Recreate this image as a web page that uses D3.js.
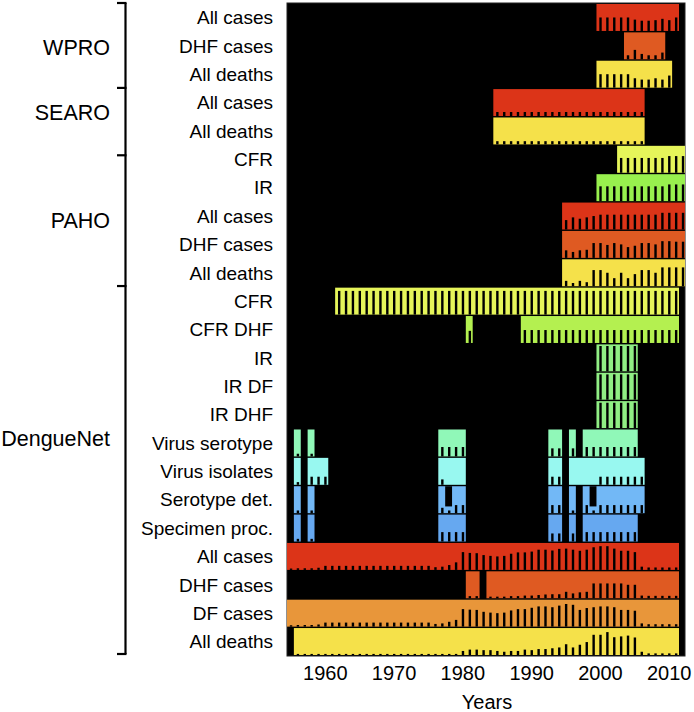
<!DOCTYPE html>
<html>
<head>
<meta charset="utf-8">
<script src="https://cdn.jsdelivr.net/npm/d3@7"></script>
<style>
  body { margin: 0; background: #fff; }
  svg text { font-family: "Liberation Sans", Arial, Helvetica, sans-serif; fill: #000; }
</style>
</head>
<body>
<svg id="chart" width="694" height="712"></svg>
<script>
// each series: list of [firstYear, values...]; null = no data (black cell)
var wproAllCases   = [[2000, [.5, .5, .5, .5, .5, .42, .38, .38, .4, .45, .4, .5]]];
var wproDhfCases   = [[2004, [.15, .35, .2, .15, .15, .25]]];
var wproAllDeaths  = [[2000, [.5, .5, .5, .5, .5, .35, .3, .3, .35, .3, .45]]];
var searoAllCases  = [[1985, [.15, .15, .15, .15, .15, .15, .15, .15, .15, .15, .15, .15, .15, .15, .15, .15, .15, .15, .15, .15, .15, .15]]];
var searoAllDeaths = [[1985, [.12, .12, .12, .12, .12, .12, .12, .12, .12, .12, .12, .12, .12, .12, .12, .12, .12, .12, .12, .12, .12, .12]]];
var pahoCfr        = [[2003, [.55, .55, .55, .55, .55, .55, .55, .62, .62, .62]]];
var pahoIr         = [[2000, [.55, .55, .55, .55, .55, .55, .55, .55, .55, .55, .62, .62, .62]]];
var pahoAllCases   = [[1995, [.35, .45, .4, .45, .5, .55, .55, .55, .55, .55, .55, .55, .55, .55, .62, .62, .62, .62]]];
var pahoDhfCases   = [[1995, [.28, .22, .28, .3, .55, .55, .48, .55, .5, .4, .45, .55, .55, .5, .62, .62, .6, .6]]];
var pahoAllDeaths  = [[1995, [.2, .12, .2, .15, .6, .6, .5, .3, .5, .3, .45, .6, .6, .5, .7, .7, .7, .7]]];
var dnCfr          = [[1962, [.88, .88, .88, .88, .88, .88, .88, .88, .88, .88, .88, .88, .88, .88, .88, .88, .88, .88, .88, .88, .88, .88, .88, .88, .88,
                             .88, .88, .88, .88, .88, .88, .88, .88, .88, .88, .88, .88, .88, .88, .88, .88, .88, .88, .88, .88, .88, .88, .88, .88, .88]]];
var dnCfrDhf       = [[1981, [.45]], [1989, [.48, .48, .48, .48, .48, .48, .48, .48, .48, .48, .48, .48, .48, .48, .48, .48, .48, .48, .48, .48, .48, .48, .48]]];
var dnIr           = [[2000, [.94, .94, .94, .94, .94, .94]]];
var dnIrDf         = [[2000, [.94, .94, .94, .94, .94, .94]]];
var dnIrDhf        = [[2000, [.94, .94, .94, .94, .94, .94]]];
var dnSerotype     = [[1956, [.1]], [1958, [.1]], [1977, [.35, .35, .35, .35]], [1993, [.3, .3]], [1996, [.3]], [1998, [.35, .35, .35, .35, .35, .35, .35, .35]]];
var dnIsolates     = [[1956, [.1]], [1958, [.3, .3, .3]], [1977, [.2, 0, 0, 0]], [1993, [.3, .3]], [1996, [0, 0, 0, 0, .3, .3, .3, .3, .3, .3, .3]]];
var dnSerotypeDet  = [[1956, [.1]], [1958, [.1]], [1977, [.2, .1, .3, .3]], [1993, [.3, .3]], [1996, [.1]], [1998, [.3, .1, .3, .3, .3, .3, .3, .3, .3]]];
var dnSpecimen     = [[1956, [.1]], [1958, [.1]], [1977, [.35, .35, .35, .35]], [1993, [.3, .3]], [1996, [.3]], [1998, [.35, .35, .35, .35, .35, .35, .35, .35]]];
var dnAllCases     = [[1955, [.05, .06, .06, .06, .08, .15, .15, .15, .15, .15, .15, .15, .15, .15, .15, .15, .15, .15, .15, .15, .15, .1, .12, .18, .28,
                             .66, .63, .62, .55, .52, .5, .52, .6, .65, .65, .68, .75, .75, .72, .78, .79, .75, .71, .75, .84, .88, .88, .79, .71, .71, .66,
                             .12, .09, .09, .09, .09, .09]]];
var dnDhfCases     = [[1981, [.08, .08, null, .06, .06, .06, .08, .08, .1, .1, .12, .14, .15, .15, .24, .18, .22, .24, .55, .55, .55, .55, .55, .5, .5,
                             .1, .09, .09, .09, .09, .09]]];
var dnDfCases      = [[1955, [.05, .06, .06, .06, .08, .15, .15, .15, .15, .15, .15, .15, .15, .15, .15, .15, .15, .15, .15, .15, .15, .1, .12, .18, .25,
                             .65, .63, .62, .55, .52, .5, .52, .6, .65, .65, .7, .75, .75, .72, .78, .84, .81, .62, .69, .72, .75, .75, .72, .62, .62, .59,
                             .12, .09, .09, .09, .09, .09]]];
var dnAllDeaths    = [[1956, [.04, .04, .04, .04, .04, .04, .04, .04, .04, .04, .04, .04, .04, .04, .04, .04, .04, .04, .04, .04, .04, .04, .04, .04,
                             .15, .2, .2, .18, .18, .15, .12, .15, .15, .2, .18, .22, .22, .25, .28, .4, .28, .38, .48, .75, .75, .85, .66, .69, .72, .65,
                             .12, .06, .06, .06, .06, .06]]];
// cells that are only partly filled: [row, year, filled share from the bottom]
var partialCells = [[17, 1978, .25], [17, 1999, .25]];

var rowLabels = ["All cases", "DHF cases", "All deaths",
                 "All cases", "All deaths",
                 "CFR", "IR", "All cases", "DHF cases", "All deaths",
                 "CFR", "CFR DHF", "IR", "IR DF", "IR DHF", "Virus serotype", "Virus isolates",
                 "Serotype det.", "Specimen proc.", "All cases", "DHF cases", "DF cases", "All deaths"];
var rowSeries = [wproAllCases, wproDhfCases, wproAllDeaths,
                 searoAllCases, searoAllDeaths,
                 pahoCfr, pahoIr, pahoAllCases, pahoDhfCases, pahoAllDeaths,
                 dnCfr, dnCfrDhf, dnIr, dnIrDf, dnIrDhf, dnSerotype, dnIsolates,
                 dnSerotypeDet, dnSpecimen, dnAllCases, dnDhfCases, dnDfCases, dnAllDeaths];
var rowColors = ["#dc3418", "#df5a22", "#f5e14a",
                 "#dc3418", "#f5e14a",
                 "#e6f55a", "#98f04e", "#dc3418", "#df5a22", "#f5e14a",
                 "#e6f55a", "#b4f050", "#90ee84", "#90ee84", "#90ee84", "#90f8b8", "#98f8f0",
                 "#72b8f6", "#66a8f0", "#dc3418", "#df5a22", "#e8963a", "#f5e14a"];
var groupNames = ["WPRO", "SEARO", "PAHO", "DengueNet"];
var groupLabelRow = [1.57, 3.85, 7.69, 15.39];   // vertical centre of the group name, in rows
var groupBreaks = [0, 3, 5.38, 10, 23];          // bracket ticks, in rows
var decadeTicks = [1960, 1970, 1980, 1990, 2000, 2010];

var svg = d3.select("#chart");
var plotLeft = 287, plotRight = 685, plotTop = 4, plotBottom = 655;

var x = d3.scaleLinear().domain([1954.5, 2011.5]).range([plotLeft, 679]);
var y = d3.scaleBand().domain(d3.range(rowLabels.length)).range([plotTop, plotBottom]).paddingInner(0.05);
var rowY = d3.scaleLinear().domain([0, rowLabels.length]).range([plotTop - 1, plotBottom - 1]);

svg.append("defs").append("clipPath").attr("id", "plotClip")
  .append("rect").attr("x", plotLeft).attr("y", plotTop - 1)
  .attr("width", plotRight - plotLeft).attr("height", plotBottom - plotTop + 2);

svg.append("rect")
  .attr("x", plotLeft).attr("y", plotTop - 1)
  .attr("width", plotRight - plotLeft).attr("height", plotBottom - plotTop + 2)
  .attr("fill", "#000").attr("stroke", "#222").attr("stroke-width", 1);

// one entry per year, and runs of consecutive years for the coloured bands
var cells = [];
var runs = [];
rowSeries.forEach(function(series, r) {
  series.forEach(function(seg) {
    var run = null;
    seg[1].forEach(function(v, i) {
      var yr = seg[0] + i;
      if (v === null) { run = null; return; }
      cells.push({ row: r, year: yr, value: v });
      if (run) run.end = yr;
      else { run = { row: r, start: yr, end: yr }; runs.push(run); }
    });
  });
});

var plot = svg.append("g").attr("clip-path", "url(#plotClip)");

plot.append("g").attr("class", "bands")
  .selectAll("rect")
  .data(runs)
  .enter()
  .append("rect")
  .attr("x", function(d) { return x(d.start - 0.5); })
  .attr("width", function(d) { return x(d.end + 0.5) - x(d.start - 0.5); })
  .attr("y", function(d) { return y(d.row); })
  .attr("height", y.bandwidth())
  .attr("fill", function(d) { return rowColors[d.row]; });

// black over the empty top part of partly filled cells
plot.append("g").attr("class", "masks")
  .selectAll("rect")
  .data(partialCells)
  .enter()
  .append("rect")
  .attr("x", function(d) { return x(d[1] - 0.5); })
  .attr("width", function(d) { return x(d[1] + 0.5) - x(d[1] - 0.5); })
  .attr("y", function(d) { return y(d[0]); })
  .attr("height", function(d) { return y.bandwidth() * (1 - d[2]); })
  .attr("fill", "#000");

plot.append("g").attr("class", "bars")
  .selectAll("rect")
  .data(cells.filter(function(d) { return d.value > 0; }))
  .enter()
  .append("rect")
  .attr("x", function(d) { return x(d.year) - 0.6; })
  .attr("width", 2.4)
  .attr("y", function(d) { return y(d.row) + y.bandwidth() * (1 - d.value); })
  .attr("height", function(d) { return y.bandwidth() * d.value; })
  .attr("fill", "#000");

// row labels
svg.append("g").selectAll("text")
  .data(rowLabels)
  .enter()
  .append("text")
  .attr("x", 273)
  .attr("y", function(d, i) { return y(i) + y.bandwidth() / 2 + 6.8; })
  .attr("text-anchor", "end")
  .style("font-size", "19px")
  .text(function(d) { return d; });

// group brackets
var bracket = svg.append("g").attr("stroke", "#000").attr("stroke-width", 2.2).attr("fill", "none");
bracket.append("line")
  .attr("x1", 125.5).attr("x2", 125.5)
  .attr("y1", rowY(0)).attr("y2", rowY(23));
bracket.selectAll("line.tick")
  .data(groupBreaks)
  .enter()
  .append("line")
  .attr("class", "tick")
  .attr("x1", 117).attr("x2", 126.5)
  .attr("y1", function(d) { return rowY(d); })
  .attr("y2", function(d) { return rowY(d); });

svg.append("g").selectAll("text")
  .data(groupNames)
  .enter()
  .append("text")
  .attr("x", 110)
  .attr("y", function(d, i) { return rowY(groupLabelRow[i]) + 7.8; })
  .attr("text-anchor", "end")
  .style("font-size", "21.5px")
  .text(function(d) { return d; });

// x axis
var axis = svg.append("g")
  .attr("transform", "translate(0," + plotBottom + ")")
  .call(d3.axisBottom(x).tickValues(decadeTicks).tickSize(0).tickPadding(11).tickFormat(d3.format("d")));
axis.select(".domain").remove();
axis.selectAll("text")
  .style("font-size", "20px")
  .style("font-family", "\"Liberation Sans\", Arial, sans-serif")
  .attr("fill", "#000");

svg.append("text")
  .attr("x", 487).attr("y", 709)
  .attr("text-anchor", "middle")
  .style("font-size", "20px")
  .text("Years");
</script>
</body>
</html>
